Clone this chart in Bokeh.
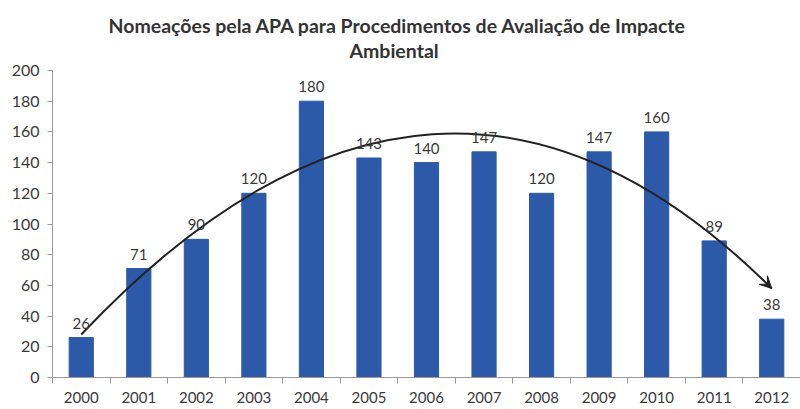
from bokeh.plotting import figure
from bokeh.models import Range1d, FixedTicker, ColumnDataSource, Arrow, VeeHead, LabelSet, Title
from bokeh.core.properties import value
from bokeh.embed import file_html
from bokeh.resources import INLINE

years = ["2000", "2001", "2002", "2003", "2004", "2005", "2006",
         "2007", "2008", "2009", "2010", "2011", "2012"]
counts = [26, 71, 90, 120, 180, 143, 140, 147, 120, 147, 160, 89, 38]
y_ticks = [0, 20, 40, 60, 80, 100, 120, 140, 160, 180, 200]
title_lines = ["Nomeações pela APA para Procedimentos de Avaliação de Impacte", "Ambiental"]

# trend arrow (annotation): start, control, end in (category index, value)
trend_start = (0, 28)
trend_ctrl = (6.2, 274)
trend_end = (12, 58)

xs = [i + 0.5 for i in range(len(years))]
src = ColumnDataSource(dict(x=xs, top=counts, lab=[str(c) for c in counts]))

FONT = "Lato"
TXT = "#3a3a3a"

p = figure(width=800, height=409, output_backend="svg", toolbar_location=None,
           x_range=Range1d(0, len(years)), y_range=Range1d(0, 200))
p.min_border_left = 52
p.min_border_right = 0
p.min_border_top = 70
p.min_border_bottom = 32
p.outline_line_color = None
p.xgrid.visible = False
p.ygrid.visible = False

# spacer between title block and plot frame
p.add_layout(Title(text=" ", text_font_size="2px", standoff=5), "above")
for line in reversed(title_lines):
    t = Title(text=line, align="left", text_font=FONT, text_font_style="bold",
              text_font_size="19.5px", text_color="#333333", standoff=0)
    p.add_layout(t, "above")
# horizontal placement (pixels from left of frame)
p.above[-1].offset = 56
p.above[-2].offset = 297

p.vbar(x="x", top="top", width=0.42, source=src, fill_color="#2C5AA8",
       line_color="#2C5AA8")

labels = LabelSet(x="x", y="top", text="lab", source=src, text_align="center",
                  text_baseline="bottom", y_offset=9, text_font=value(FONT),
                  text_font_size="15px", text_color=TXT)
p.add_layout(labels)

# quadratic trend curve
sx = trend_start[0] + 0.5
ex = trend_end[0] + 0.5
cx = trend_ctrl[0] + 0.5
p.quadratic(x0=[sx], y0=[trend_start[1]], x1=[ex], y1=[trend_end[1]],
            cx=[cx], cy=[trend_ctrl[1]], line_color="#222222", line_width=2)
dx, dy = ex - cx, trend_end[1] - trend_ctrl[1]
k = 0.06 / dx
p.add_layout(Arrow(end=VeeHead(size=12, fill_color="#222222", line_color="#222222"),
                   x_start=ex - dx * k, y_start=trend_end[1] - dy * k,
                   x_end=ex, y_end=trend_end[1],
                   line_color="#222222", line_width=2))

# axes
p.xaxis.ticker = FixedTicker(ticks=xs, minor_ticks=list(range(len(years) + 1)))
p.xaxis.major_label_overrides = {x: y for x, y in zip(xs, years)}
p.xaxis.major_tick_line_color = None
p.xaxis.minor_tick_out = 6
p.xaxis.minor_tick_in = 0
p.xaxis.minor_tick_line_color = "#9a9a9a"
p.xaxis.axis_line_color = "#9a9a9a"
p.xaxis.major_label_text_font = FONT
p.xaxis.major_label_text_font_size = "15px"
p.xaxis.major_label_text_color = TXT
p.xaxis.major_label_standoff = 8

p.yaxis.ticker = FixedTicker(ticks=y_ticks)
p.yaxis.minor_tick_line_color = None
p.yaxis.major_tick_out = 5
p.yaxis.major_tick_in = 0
p.yaxis.major_tick_line_color = "#9a9a9a"
p.yaxis.axis_line_color = "#9a9a9a"
p.yaxis.major_label_text_font = FONT
p.yaxis.major_label_text_font_size = "16px"
p.yaxis.major_label_text_color = TXT
p.yaxis.major_label_standoff = 8

open("out.html", "w").write(file_html(p, INLINE))
